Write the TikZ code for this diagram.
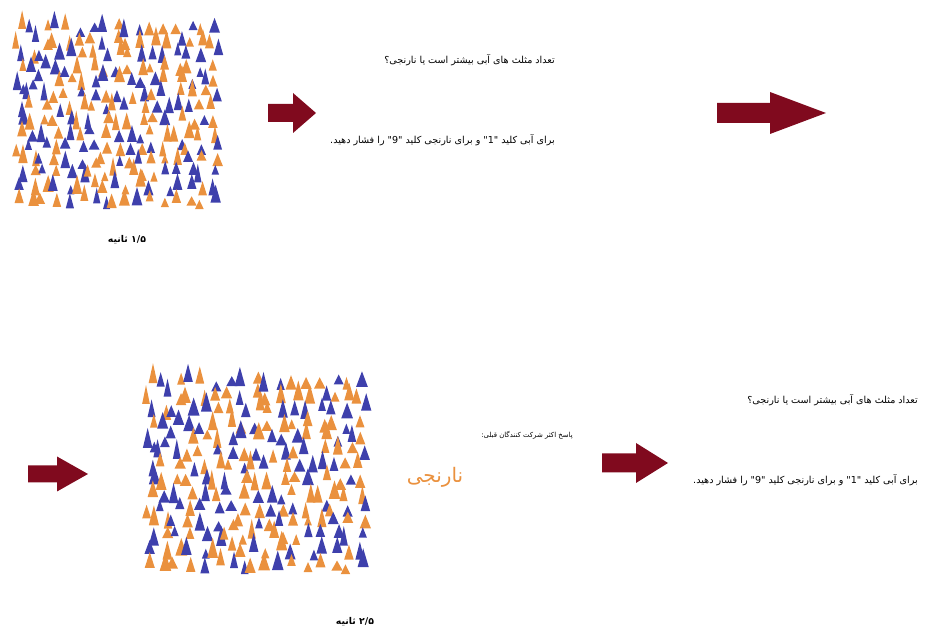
\documentclass[tikz,border=0pt]{standalone}
\usepackage{fontspec}
\usepackage{xcolor}
\usetikzlibrary{positioning}
\newfontfamily\farsi[Script=Arabic]{DejaVu Sans}
\TeXXeTstate=1

\definecolor{triblue}{RGB}{62,64,172}
\definecolor{triorange}{RGB}{234,145,62}
\definecolor{arrowred}{RGB}{128,10,30}

% field of small triangles, drawn in a 210 x 196 box
\newcommand{\trifield}{%
  \foreach \i in {0,...,16}{
    \foreach \j in {0,...,13}{
      \pgfmathsetmacro\cx{7+\i*12.2+rnd*10-5}
      \pgfmathsetmacro\cy{21+\j*13.2+rnd*10-5}
      \pgfmathsetmacro\h{9+rnd*10}
      \pgfmathsetmacro\w{7+rnd*4}
      \pgfmathtruncatemacro\c{rnd<0.5}
      \ifnum\c=1 \def\tcol{triblue}\else\def\tcol{triorange}\fi
      \fill[\tcol] (\cx-\w/2,\cy) -- (\cx+\w/2,\cy) -- (\cx,\cy-\h) -- cycle;
    }}}

% #1 tail, #2 start of head, #3 tip, #4 middle, #5 half body, #6 half head
\newcommand{\redarrow}[6]{%
  \fill[arrowred] (#1,#4-#5) -- (#2,#4-#5) -- (#2,#4-#6) -- (#3,#4)
    -- (#2,#4+#6) -- (#2,#4+#5) -- (#1,#4+#5) -- cycle;}

\begin{document}
\begin{tikzpicture}[x=0.75pt,y=-0.75pt,
    txt/.style={anchor=east,inner sep=0pt,font=\farsi\fontsize{7.2}{8}\selectfont},
    note/.style={anchor=east,inner sep=0pt,font=\farsi\fontsize{5.2}{6}\selectfont},
    secs/.style={inner sep=0pt,font=\farsi\bfseries\fontsize{7}{8}\selectfont},
    answer/.style={inner sep=0pt,text=triorange,font=\farsi\fontsize{15}{17}\selectfont}]
  \useasboundingbox (0,0) rectangle (926,630);

  % first screen
  \begin{scope}[shift={(12,12)}]
    \pgfmathsetseed{4711}
    \trifield
  \end{scope}
  \node[secs] (t1) at (127,240) {\beginR ۱/۵ ثانیه\endR};
  \redarrow{268}{293}{316}{113}{9}{20}

  \node[txt] (q1) at (555,60) {\beginR تعداد مثلث های آبی بیشتر است یا نارنجی؟\endR};
  \node[txt] (k1) at (555,140) {\beginR برای آبی کلید "1" و برای نارنجی کلید "9" را فشار دهید.\endR};
  \redarrow{717}{770}{826}{113}{10}{21}

  % second screen
  \redarrow{28}{57}{88}{474}{8.5}{17.5}
  \begin{scope}[shift={(142,365)},xscale=1.086,yscale=1.061]
    \pgfmathsetseed{4711}
    \trifield
  \end{scope}
  \node[secs] (t2) at (355,622) {\beginR ۲/۵ ثانیه\endR};

  \node[note] (p) at (573,435) {\beginR پاسخ اکثر شرکت کنندگان قبلی:\endR};
  \node[answer] (ans) at (435,477) {\beginR نارنجی\endR};
  \redarrow{602}{636}{668}{463}{9.5}{20}

  \node[txt] (q2) at (918,400) {\beginR تعداد مثلث های آبی بیشتر است یا نارنجی؟\endR};
  \node[txt] (k2) at (918,480) {\beginR برای آبی کلید "1" و برای نارنجی کلید "9" را فشار دهید.\endR};
\end{tikzpicture}
\end{document}
